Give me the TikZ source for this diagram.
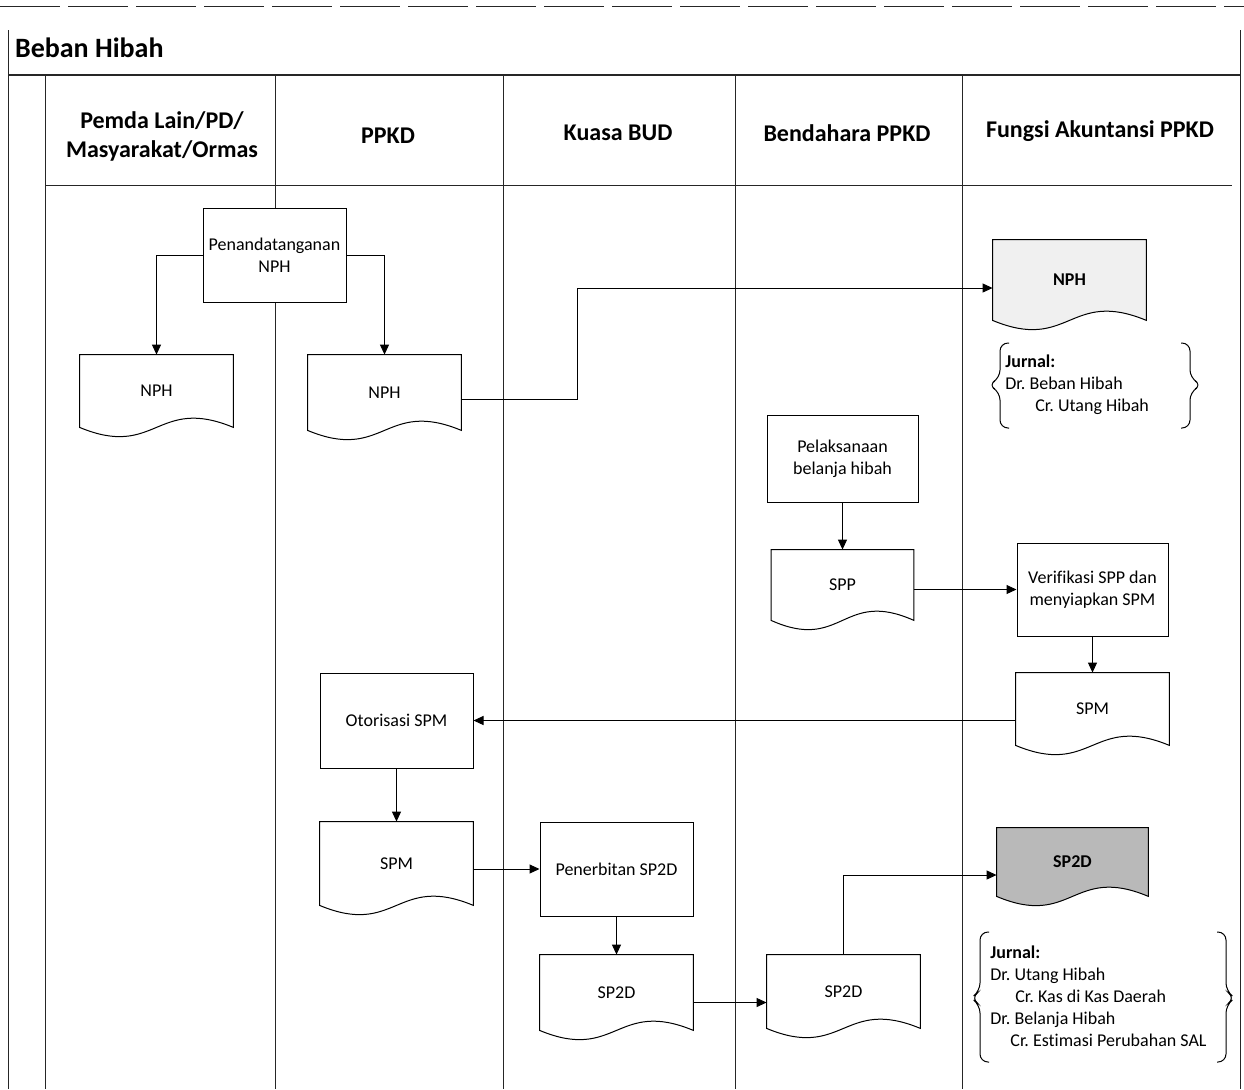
\documentclass[tikz,border=0pt]{standalone}
\usepackage{fontspec}
\setmainfont{Carlito}[Ligatures=NoCommon]
\usetikzlibrary{arrows.meta,calc}
\pgfdeclarelayer{bg}
\pgfsetlayers{bg,main}
\frenchspacing
\newcommand\docoutline[2]{%
  \draw[docline,fill=#2] (#1.north west) -- (#1.north east) -- (#1.south east)
    .. controls ($(#1.south)+(0,-32)$) and ($(#1.south)+(0,32)$) .. (#1.south west) -- cycle;}
\newcommand\jbraces[6]{% L R T B M tipoffset
  \draw[docline,rounded corners=4pt] (#1+9,#3) -- (#1,#3) -- (#1,#5-7) -- (#1-#6,#5) -- (#1,#5+7) -- (#1,#4) -- (#1+9,#4);
  \draw[docline,rounded corners=4pt] (#2-9,#3) -- (#2,#3) -- (#2,#5-7) -- (#2+#6,#5) -- (#2,#5+7) -- (#2,#4) -- (#2-9,#4);}
\begin{document}
\begin{tikzpicture}[x=0.5pt,y=-0.5pt,
  body/.style={font=\fontsize{9}{11}\selectfont},
  sz/.style 2 args={minimum width=#1pt,minimum height=#2pt},
  procbox/.style={draw,fill=white,line width=0.5pt,align=center,inner sep=0pt,body},
  docbox/.style={align=center,inner sep=0pt,body},
  docline/.style={line width=0.5pt},
  lane/.style={line width=0.5pt,black!85},
  hdr/.style={font=\fontsize{12}{14.5}\selectfont\bfseries,align=center},
  jtext/.style={font=\fontsize{9}{11}\selectfont,align=left,inner sep=0pt,anchor=west},
  arr/.style={-{Triangle[length=5pt,width=4.5pt]},line width=0.5pt}]
\useasboundingbox (0,0) rectangle (1244,1089);

% headers
\node[font=\fontsize{14}{16}\selectfont\bfseries,anchor=west] (title) at (8,48) {Beban Hibah};
\node[hdr] (h1) at (162,136) {Pemda Lain/PD/\\Masyarakat/Ormas};
\node[hdr] (h2) at (388,136) {PPKD};
\node[hdr] (h3) at (618,133) {Kuasa BUD};
\node[hdr] (h4) at (847,133) {Bendahara PPKD};
\node[hdr] (h5) at (1100,131) {Fungsi Akuntansi PPKD};

% process boxes
\node[procbox,sz={71.5}{47}] (pen) at (274.5,255) {Penandatanganan\\NPH};
\node[procbox,sz={75.5}{43.5}] (pel) at (842.5,458.5) {Pelaksanaan\\belanja hibah};
\node[procbox,sz={75.5}{46.5}] (ver) at (1092.5,589.5) {Verifikasi SPP dan\\menyiapkan SPM};
\node[procbox,sz={76.5}{47.5}] (oto) at (396.5,720.5) {Otorisasi SPM};
\node[procbox,sz={76.5}{47}] (pen2) at (616.5,869) {Penerbitan SP2D};

% documents
\node[docbox,sz={76.5}{36}] (npha) at (156.5,391) {NPH};
\node[docbox,sz={76.5}{37.5}] (nphb) at (384.5,392.5) {NPH};
\node[docbox,sz={76.5}{40},font=\fontsize{9}{11}\selectfont\bfseries] (nphf) at (1069.5,280) {NPH};
\node[docbox,sz={71}{35}] (spp) at (842.5,585) {SPP};
\node[docbox,sz={76.5}{36}] (spmf) at (1092.5,709) {SPM};
\node[docbox,sz={76.5}{41.5}] (spmp) at (396.5,863.5) {SPM};
\node[docbox,sz={76.5}{37.5}] (sp2dk) at (616.5,992.5) {SP2D};
\node[docbox,sz={76.5}{36.5}] (sp2db) at (843.5,991.5) {SP2D};
\node[docbox,sz={75.5}{34},font=\fontsize{9}{11}\selectfont\bfseries] (sp2df) at (1072.5,862) {SP2D};

% jurnal texts
\node[jtext] (j1) at (1005,385) {\textbf{Jurnal:}\\Dr. Beban Hibah\\\hspace*{15pt}Cr. Utang Hibah};
\node[jtext] (j2) at (990,996.5) {\textbf{Jurnal:}\\Dr. Utang Hibah\\\hspace*{12.5pt}Cr. Kas di Kas Daerah\\Dr. Belanja Hibah\\\hspace*{10pt}Cr. Estimasi Perubahan SAL};

\begin{pgfonlayer}{bg}
  % frame and lanes
  \draw[lane,dash pattern=on 30pt off 4pt] (0,6) -- (1244,6);
  \draw[lane] (8,30) -- (8,1089);
  \draw[lane] (1240,30) -- (1240,1089);
  \draw[lane,line width=0.9pt] (8,75) -- (1240,75);
  \draw[lane] (45,185) -- (1232,185);
  \foreach \xx in {45,275,503,735,962} {\draw[lane] (\xx,75) -- (\xx,1089);}
  % document outlines
  \docoutline{npha}{white}
  \docoutline{nphb}{white}
  \docoutline{nphf}{gray!12}
  \docoutline{spp}{white}
  \docoutline{spmf}{white}
  \docoutline{spmp}{white}
  \docoutline{sp2dk}{white}
  \docoutline{sp2db}{white}
  \docoutline{sp2df}{gray!55}
  % jurnal braces
  \fill[white] (1000,343) rectangle (1190,428);
  \fill[white] (980,932) rectangle (1226,1062);
  \jbraces{1000}{1190}{343}{428}{385}{12}
  \jbraces{980}{1226}{932}{1062}{998}{9}
\end{pgfonlayer}

% connectors
\coordinate (k1) at (577,0);
\draw[arr] (pen.west) -| (npha.north);
\draw[arr] (pen.east) -| (nphb.north);
\coordinate (c3) at ([yshift=-3.5pt]nphb.east);
\draw[arr] (c3) -- (c3 -| k1) |- ([yshift=-4pt]nphf.west);
\draw[arr] (pel.south) -- (spp.north);
\draw[arr] (spp.east |- ver.west) -- (ver.west);
\draw[arr] (ver.south) -- (spmf.north);
\draw[arr] (spmf.west |- oto.east) -- (oto.east);
\draw[arr] (oto.south) -- (spmp.north);
\draw[arr] (spmp.east |- pen2.west) -- (pen2.west);
\draw[arr] (pen2.south) -- (sp2dk.north);
\coordinate (c11) at ([yshift=-5pt]sp2dk.east);
\draw[arr] (c11) -- (c11 -| sp2db.west);
\draw[arr] (sp2db.north) |- ([yshift=-6.5pt]sp2df.west);
\end{tikzpicture}
\end{document}
